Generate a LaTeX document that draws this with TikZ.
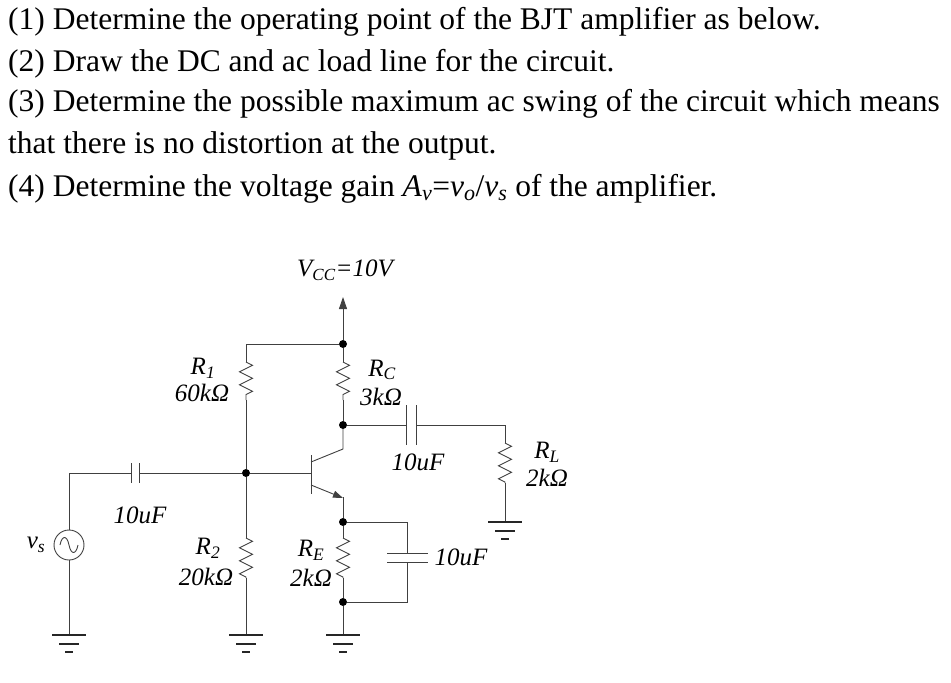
\documentclass[tikz,border=0pt]{standalone}
\usepackage{fontspec}
\setmainfont{Liberation Serif}
\usetikzlibrary{decorations.pathmorphing,arrows.meta}
\begin{document}
\begin{tikzpicture}[x=1pt,y=-1pt,
  wire/.style={draw=black!75,line width=0.9pt},
  zig/.style={wire,decorate,decoration={zigzag,segment length=13pt,amplitude=6.5pt}},
  dot/.style={circle,fill=black,inner sep=0pt,minimum size=8pt},
  lbl/.style={font=\fontsize{25}{28}\selectfont\itshape,inner sep=0pt},
  txt/.style={font=\fontsize{31.5}{34}\selectfont,anchor=west,inner sep=0pt},
  gnd/.pic={\draw[draw=black!85,line width=1.6pt] (-17,0)--(17,0) (-10,9)--(10,9) (-4,17)--(4,17);}]
\useasboundingbox (0,0) rectangle (951,683);
\node[txt] (t1) at (8,22) {(1) Determine the operating point of the BJT amplifier as below.};
\node[txt] (t2) at (8,64) {(2) Draw the DC and ac load line for the circuit.};
\node[txt] (t3) at (8,104) {(3) Determine the possible maximum ac swing of the circuit which means};
\node[txt] (t4) at (8,146) {that there is no distortion at the output.};
\node[txt] (t5) at (8,189) {(4) Determine the voltage gain \textit{A}\textsubscript{\textit{v}}=\textit{v}\textsubscript{\textit{o}}/\textit{v}\textsubscript{\textit{s}} of the amplifier.};
\node[dot] (b) at (246,473) {};
\node[dot] (vt) at (343,344) {};
\node[dot] (c) at (343,425) {};
\node[dot] (e) at (343,522) {};
\node[dot] (eb) at (343,602) {};
\coordinate (g0) at (69,635);
\coordinate (g1) at (246,635);
\coordinate (g2) at (343,635);
\coordinate (g3) at (505,522);
\node[circle,draw=black!75,line width=0.9pt,minimum size=30pt,inner sep=0pt] (src) at (69,545) {};
\draw[wire] (60,545) .. controls (62,535) and (67,535) .. (69,545) .. controls (71,555) and (76,555) .. (78,545);
\draw[wire] (src.north) -- (69,473) -- (131,473);
\draw[wire] (131,463)--(131,483) (139,463)--(139,483);
\draw[wire] (139,473) -- (b) -- (311,473);
\draw[wire] (src.south) -- (g0); \pic at (g0) {gnd};
\draw[wire] (vt) -- (246,344) -- (246,362);
\draw[zig] (246,362) -- (246,400);
\draw[wire] (246,400) -- (b) -- (246,538);
\draw[zig] (246,538) -- (246,578);
\draw[wire] (246,578) -- (g1); \pic at (g1) {gnd};
\draw[wire,-{Triangle[length=12pt,width=8pt]}] (vt) -- (343,297);
\draw[wire] (vt) -- (343,362);
\draw[zig] (343,362) -- (343,400);
\draw[wire] (343,400) -- (c);
\draw[wire] (311,455) -- (311,494);
\draw[wire] (c) -- (343,449) -- (311,462);
\draw[wire,-{Triangle[length=10pt,width=7pt]}] (311,485) -- (343,498);
\draw[wire] (343,497) -- (e);
\draw[wire] (e) -- (343,538);
\draw[zig] (343,538) -- (343,578);
\draw[wire] (343,578) -- (eb) -- (g2); \pic at (g2) {gnd};
\draw[wire] (e) -- (407,522) -- (407,553);
\draw[wire] (387,553)--(428,553) (387,562)--(428,562);
\draw[wire] (407,562) -- (407,602) -- (eb);
\draw[wire] (c) -- (406,425);
\draw[wire] (406,405)--(406,445) (416,405)--(416,445);
\draw[wire] (416,425) -- (505,425) -- (505,443);
\draw[zig] (505,443) -- (505,483);
\draw[wire] (505,483) -- (g3); \pic at (g3) {gnd};
\node[lbl] (lv) at (345,270) {V\textsubscript{\fontsize{17}{17}\selectfont CC}=10V};
\node[lbl] (l1) at (203,368) {R\textsubscript{1}};
\node[lbl] (l1v) at (202,393) {60kΩ};
\node[lbl] (lc) at (382,370) {R\textsubscript{C}};
\node[lbl] (lcv) at (381,397) {3kΩ};
\node[lbl] (lco) at (418,462) {10uF};
\node[lbl] (ll) at (547,452) {R\textsubscript{L}};
\node[lbl] (llv) at (547,478) {2kΩ};
\node[lbl] (lci) at (140,515) {10uF};
\node[lbl] (lvs) at (36,545) {v\textsubscript{s}};
\node[lbl] (l2) at (208,548) {R\textsubscript{2}};
\node[lbl] (l2v) at (206,577) {20kΩ};
\node[lbl] (le) at (311,550) {R\textsubscript{E}};
\node[lbl] (lev) at (311,578) {2kΩ};
\node[lbl] (lce) at (461,557) {10uF};
\end{tikzpicture}
\end{document}
